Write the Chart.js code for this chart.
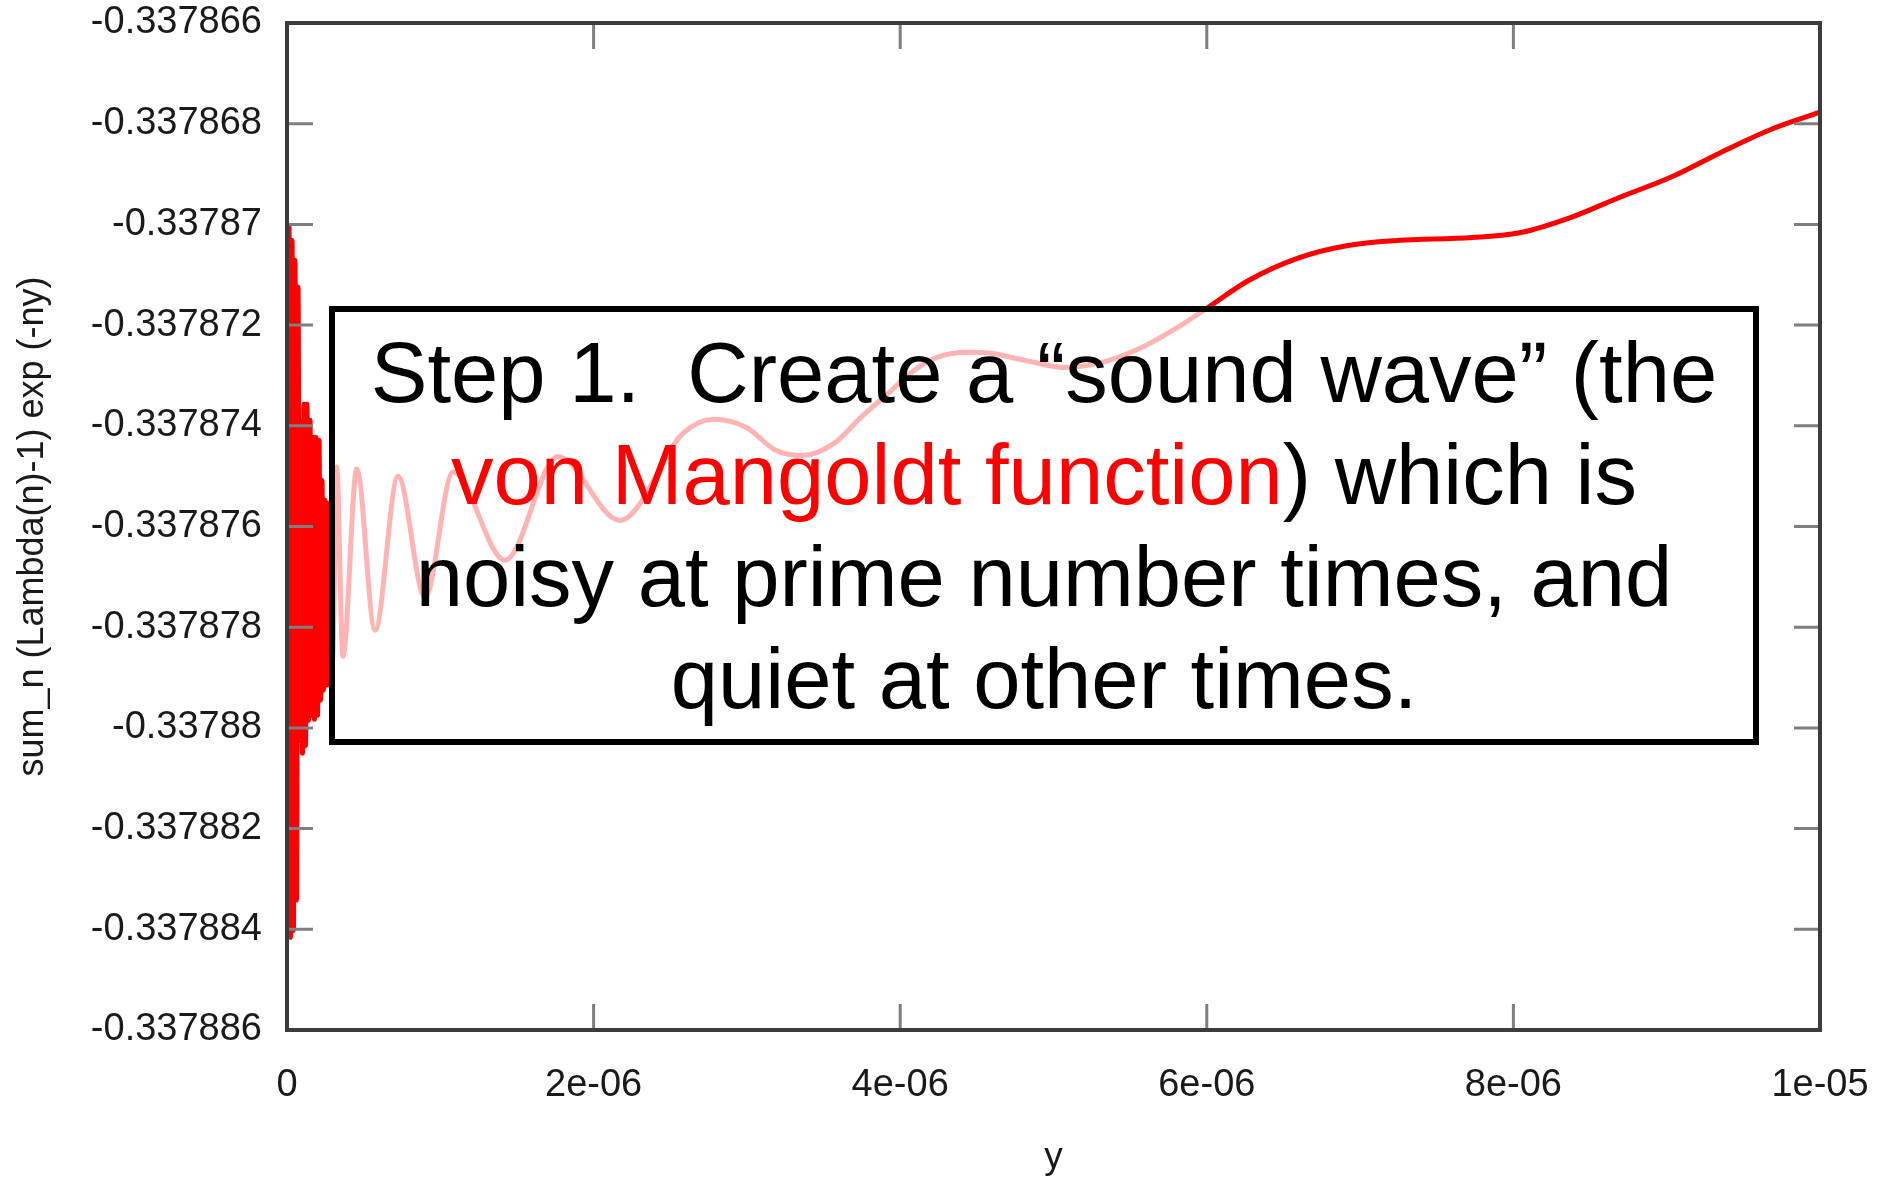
<!DOCTYPE html>
<html>
<head>
<meta charset="utf-8">
<title>sum_n (Lambda(n)-1) exp (-ny)</title>
<script src="https://cdn.jsdelivr.net/npm/chart.js@4.4.1/dist/chart.umd.min.js"></script>
<style>
  html, body { margin: 0; padding: 0; background: #fff; }
  canvas { display: block; }
</style>
</head>
<body>
<canvas id="waveChart" width="1877" height="1183"></canvas>
<script>
// values: noisy burst near 0, then slow waves
const xValues = [
    0.003e-6, 0.013e-6, 0.023e-6, 0.033e-6, 0.042e-6, 0.052e-6, 0.062e-6, 0.072e-6,
    0.082e-6, 0.091e-6, 0.101e-6, 0.111e-6, 0.121e-6, 0.130e-6, 0.140e-6, 0.150e-6,
    0.160e-6, 0.170e-6, 0.179e-6, 0.189e-6, 0.199e-6, 0.209e-6, 0.219e-6, 0.228e-6,
    0.238e-6, 0.248e-6, 0.258e-6, 0.267e-6, 0.277e-6, 0.287e-6, 0.297e-6,
    0.324e-6, 0.365e-6, 0.455e-6, 0.574e-6, 0.724e-6, 0.900e-6, 1.083e-6, 1.422e-6,
    1.768e-6, 2.172e-6, 2.583e-6, 2.785e-6, 2.994e-6, 3.190e-6, 3.366e-6, 3.568e-6,
    3.744e-6, 3.920e-6, 4.090e-6, 4.240e-6, 4.442e-6, 4.592e-6, 4.814e-6, 5.068e-6,
    5.316e-6, 5.564e-6, 5.812e-6, 5.988e-6, 6.275e-6, 6.595e-6, 6.921e-6, 7.241e-6,
    7.730e-6, 8.050e-6, 8.376e-6, 8.695e-6, 9.022e-6, 9.341e-6, 9.667e-6, 10.0e-6
];
const sumValues = [
    -0.33787747, -0.33787002, -0.33788416, -0.33787032, -0.33788402, -0.33787071, -0.33788342, -0.33787125,
    -0.33788025, -0.33787389, -0.33788050, -0.33787357, -0.33788035, -0.33787357, -0.33787985, -0.33787389,
    -0.33787975, -0.33787423, -0.33787983, -0.33787423, -0.33787975, -0.33787429, -0.33787945, -0.33787508,
    -0.33787925, -0.33787548, -0.33787915, -0.33787554, -0.33787915, -0.33787588, -0.33787866,
    -0.33787482, -0.33787858, -0.33787486, -0.33787806, -0.33787500, -0.33787741, -0.33787492, -0.33787667,
    -0.33787461, -0.33787588, -0.33787415, -0.33787387, -0.33787403, -0.33787449, -0.33787459, -0.33787435,
    -0.33787383, -0.33787336, -0.33787290, -0.33787264, -0.33787254, -0.33787256, -0.33787270, -0.33787284,
    -0.33787274, -0.33787246, -0.33787204, -0.33787169, -0.33787111, -0.33787067, -0.33787042, -0.33787032,
    -0.33787026, -0.33787016, -0.33786986, -0.33786946, -0.33786907, -0.33786859, -0.33786813, -0.33786777
];

const xTickValues = [0, 2e-6, 4e-6, 6e-6, 8e-6, 1e-5];
const xTickLabels = ['0', '2e-06', '4e-06', '6e-06', '8e-06', '1e-05'];
const yTickValues = [-0.337886, -0.337884, -0.337882, -0.33788, -0.337878, -0.337876,
                     -0.337874, -0.337872, -0.33787, -0.337868, -0.337866];
const yTickLabels = ['-0.337886', '-0.337884', '-0.337882', '-0.33788', '-0.337878', '-0.337876',
                     '-0.337874', '-0.337872', '-0.33787', '-0.337868', '-0.337866'];

// note box text, one entry per line: [text, colour] pieces
const noteLines = [
    [['Step 1.  Create a \u201Csound wave\u201D (the', '#000000']],
    [['von Mangoldt function', '#ff0000'], [') which is', '#000000']],
    [['noisy at prime number times, and', '#000000']],
    [['quiet at other times.', '#000000']]
];

const FONT = '"Liberation Sans", Arial, Helvetica, sans-serif';

// box with the note + gnuplot style frame and inward ticks
const overlayPlugin = {
    id: 'overlay',
    afterDatasetsDraw(chart) {
        const ctx = chart.ctx;
        const bx = 332, by = 309, bw = 1424, bh = 433;
        ctx.save();
        ctx.fillStyle = 'rgba(255, 255, 255, 0.7)';
        ctx.fillRect(bx, by, bw, bh);
        ctx.lineWidth = 6;
        ctx.strokeStyle = '#000';
        ctx.strokeRect(bx, by, bw, bh);

        ctx.font = '85px ' + FONT;
        ctx.textAlign = 'left';
        ctx.textBaseline = 'alphabetic';
        const cx = bx + bw / 2;
        noteLines.forEach((pieces, i) => {
            const total = pieces.reduce((w, p) => w + ctx.measureText(p[0]).width, 0);
            let x = cx - total / 2;
            const y = 402 + i * 102;
            pieces.forEach(p => {
                ctx.fillStyle = p[1];
                ctx.fillText(p[0], x, y);
                x += ctx.measureText(p[0]).width;
            });
        });
        ctx.restore();
    },
    afterDraw(chart) {
        const {ctx, chartArea: a, scales} = chart;
        const len = 26;
        ctx.save();
        ctx.strokeStyle = '#7f7f7f';
        ctx.lineWidth = 3;
        ctx.beginPath();
        xTickValues.forEach(v => {
            const px = scales.x.getPixelForValue(v);
            ctx.moveTo(px, a.bottom);
            ctx.lineTo(px, a.bottom - len);
            ctx.moveTo(px, a.top);
            ctx.lineTo(px, a.top + len);
        });
        yTickValues.forEach(v => {
            const py = scales.y.getPixelForValue(v);
            ctx.moveTo(a.left, py);
            ctx.lineTo(a.left + len, py);
            ctx.moveTo(a.right, py);
            ctx.lineTo(a.right - len, py);
        });
        ctx.stroke();
        ctx.strokeStyle = '#3c3c3c';
        ctx.lineWidth = 4;
        ctx.strokeRect(a.left, a.top, a.right - a.left, a.bottom - a.top);
        ctx.restore();
    }
};

// fixed axis boxes so the plot area lands where the original has it
function fixPadding(scale) {
    scale.paddingTop = 0;
    scale.paddingBottom = 0;
    scale.paddingLeft = 0;
    scale.paddingRight = 0;
}

const ctx = document.getElementById('waveChart').getContext('2d');
new Chart(ctx, {
    type: 'line',
    data: {
        datasets: [{
            data: xValues.map((x, i) => ({x: x, y: sumValues[i]})),
            borderColor: '#ff0000',
            borderWidth: 5,
            pointRadius: 0,
            cubicInterpolationMode: 'monotone',
            fill: false
        }]
    },
    options: {
        responsive: false,
        animation: false,
        devicePixelRatio: 1,
        layout: {
            padding: {left: 0, right: 57, top: 23, bottom: 0}
        },
        plugins: {
            legend: {display: false},
            tooltip: {enabled: false}
        },
        scales: {
            x: {
                type: 'linear',
                min: 0,
                max: 1e-5,
                grid: {display: false, drawTicks: false},
                border: {display: false},
                afterBuildTicks: scale => {
                    scale.ticks = xTickValues.map(v => ({value: v}));
                },
                afterFit: scale => {
                    scale.height = 153;
                    fixPadding(scale);
                },
                ticks: {
                    autoSkip: false,
                    maxRotation: 0,
                    padding: 33,
                    color: '#1a1a1a',
                    font: {family: FONT, size: 38},
                    callback: (value, index) => xTickLabels[index]
                },
                title: {
                    display: true,
                    text: 'y',
                    color: '#1a1a1a',
                    font: {family: FONT, size: 37},
                    padding: {top: 0, bottom: 3}
                }
            },
            y: {
                type: 'linear',
                min: -0.337886,
                max: -0.337866,
                grid: {display: false, drawTicks: false},
                border: {display: false},
                afterBuildTicks: scale => {
                    scale.ticks = yTickValues.map(v => ({value: v}));
                },
                afterFit: scale => {
                    scale.width = 287;
                    fixPadding(scale);
                },
                ticks: {
                    autoSkip: false,
                    padding: 25,
                    color: '#1a1a1a',
                    font: {family: FONT, size: 38},
                    callback: (value, index) => yTickLabels[index]
                },
                title: {
                    display: true,
                    text: 'sum_n (Lambda(n)-1) exp (-ny)',
                    color: '#1a1a1a',
                    font: {family: FONT, size: 36},
                    padding: {top: 11, bottom: 0}
                }
            }
        }
    },
    plugins: [overlayPlugin]
});
</script>
</body>
</html>
